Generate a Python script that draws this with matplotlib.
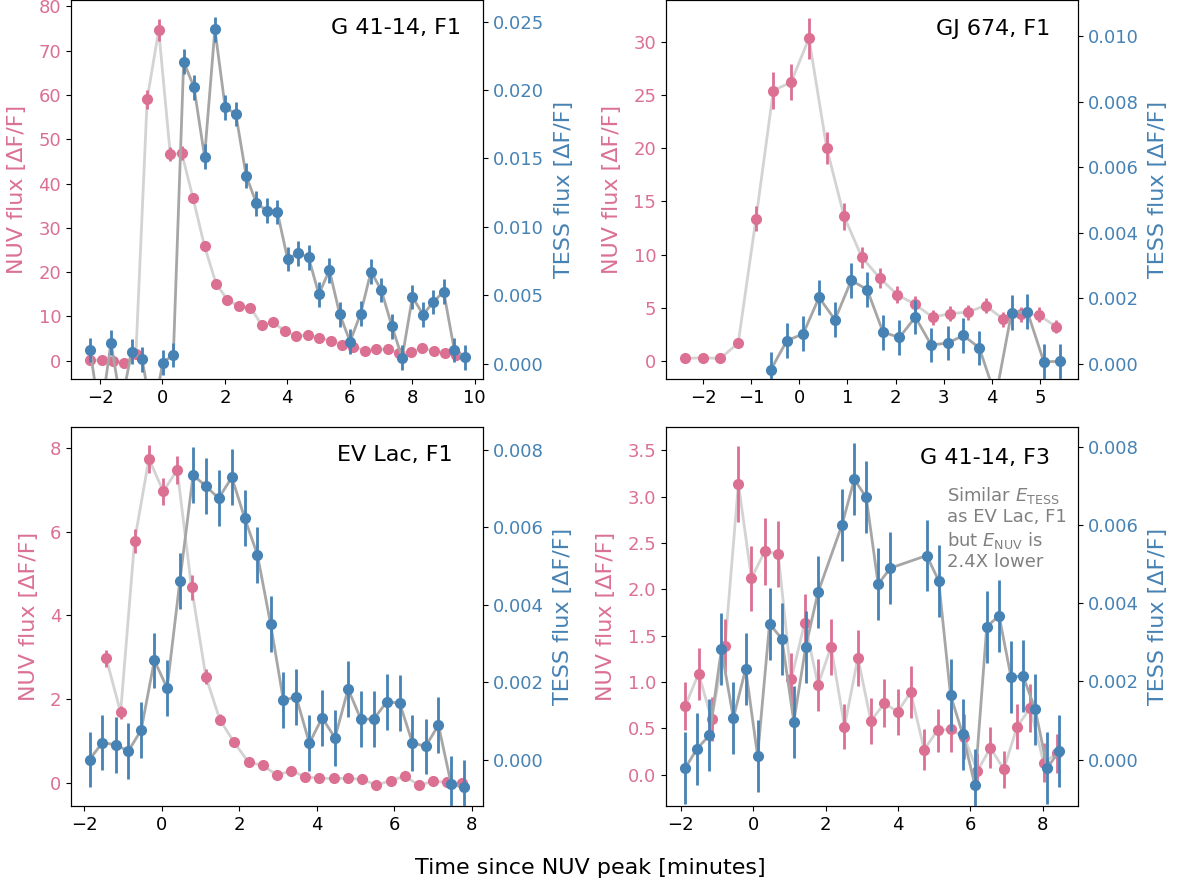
import matplotlib
matplotlib.use("Agg")
import matplotlib.pyplot as plt
from matplotlib.ticker import FormatStrFormatter

PINK = "#db7093"
BLUE = "#4682b4"
NUV_LINE = "#d3d3d3"
TESS_LINE = "#a6a6a6"

# ---------------- Panel 1: G 41-14, F1 ----------------
p1_nuv_t = [-2.32, -1.95, -1.59, -1.22, -0.85, -0.49, -0.12, 0.25, 0.62, 0.98, 1.35,
            1.72, 2.08, 2.45, 2.82, 3.19, 3.55, 3.92, 4.29, 4.65, 5.02, 5.39, 5.75,
            6.12, 6.49, 6.85, 7.22, 7.59, 7.95, 8.32, 8.69, 9.05, 9.42]
p1_nuv = [0.15, 0.15, 0.0, -0.4, 1.5, 59.0, 74.6, 46.6, 46.8, 36.7, 25.8, 17.4, 13.8,
          12.3, 12.0, 8.0, 8.7, 6.7, 5.6, 5.8, 5.2, 4.5, 3.6, 3.2, 2.3, 2.6, 2.6, 1.7,
          2.0, 2.8, 2.3, 1.8, 1.4]
p1_nuv_err = [0.4, 0.4, 0.4, 0.4, 0.5, 2.2, 2.5, 1.6, 1.6, 1.1, 0.8, 0.6, 0.5, 0.5,
              0.5, 0.4, 0.4, 0.4, 0.4, 0.4, 0.4, 0.4, 0.4, 0.4, 0.4, 0.4, 0.4, 0.4,
              0.4, 0.4, 0.4, 0.4, 0.4]
p1_tess_t = [-2.32, -1.99, -1.65, -1.32, -0.99, -0.65, -0.32, 0.01, 0.35, 0.68, 1.01,
             1.35, 1.68, 2.01, 2.35, 2.68, 3.01, 3.35, 3.68, 4.01, 4.35, 4.68, 5.01,
             5.35, 5.68, 6.01, 6.35, 6.68, 7.01, 7.35, 7.68, 8.01, 8.35, 8.68, 9.01,
             9.35, 9.68]
p1_tess = [0.00102, -0.004, 0.00156, -0.003, 0.0009, 0.00034, -0.004, 0.0001, 0.00066,
           0.02207, 0.0202, 0.01513, 0.02443, 0.01873, 0.01825, 0.01375, 0.01173,
           0.01119, 0.0111, 0.00766, 0.00808, 0.00779, 0.00509, 0.00684, 0.00363,
           0.00163, 0.00367, 0.00674, 0.0054, 0.00275, 0.00046, 0.00489, 0.0036,
           0.00453, 0.00528, 0.00102, 0.00049]
p1_tess_err = [0.0009] * len(p1_tess)

# ---------------- Panel 2: GJ 674, F1 ----------------
p2_nuv_t = [-2.37, -2.00, -1.64, -1.27, -0.90, -0.54, -0.17, 0.20, 0.57, 0.93, 1.30,
            1.67, 2.03, 2.40, 2.77, 3.14, 3.50, 3.87, 4.24, 4.60, 4.97, 5.34]
p2_nuv = [0.28, 0.34, 0.28, 1.72, 13.4, 25.4, 26.2, 30.3, 20.0, 13.6, 9.77, 7.83, 6.27,
          5.37, 4.15, 4.49, 4.62, 5.24, 3.96, 4.43, 4.37, 3.25]
p2_nuv_err = [0.3, 0.3, 0.3, 0.5, 1.2, 1.7, 1.7, 1.9, 1.5, 1.25, 1.0, 0.9, 0.8, 0.75,
              0.7, 0.7, 0.7, 0.7, 0.7, 0.7, 0.7, 0.6]
p2_tess_t = [-0.59, -0.26, 0.08, 0.41, 0.74, 1.08, 1.41, 1.74, 2.08, 2.41, 2.74, 3.08,
             3.41, 3.74, 4.08, 4.41, 4.74, 5.08, 5.41]
p2_tess = [-0.00017, 0.00071, 0.00092, 0.00203, 0.00135, 0.00255, 0.00227, 0.00097,
           0.00081, 0.00143, 0.00058, 0.00064, 0.00087, 0.00049, -0.001, 0.00157,
           0.00159, 0.00007, 0.00008]
p2_tess_err = [0.00053] * len(p2_tess)

# ---------------- Panel 3: EV Lac, F1 ----------------
p3_nuv_t = [-1.43, -1.06, -0.70, -0.33, 0.04, 0.40, 0.77, 1.14, 1.50, 1.87, 2.24, 2.61,
            2.97, 3.34, 3.71, 4.07, 4.44, 4.81, 5.17, 5.54, 5.91, 6.27, 6.64, 7.01,
            7.37, 7.74]
p3_nuv = [2.97, 1.68, 5.78, 7.75, 6.97, 7.48, 4.67, 2.53, 1.51, 0.96, 0.49, 0.41, 0.18,
          0.28, 0.14, 0.10, 0.10, 0.10, 0.08, -0.06, 0.05, 0.15, -0.06, 0.03, 0.01,
          -0.02]
p3_nuv_err = [0.2, 0.15, 0.29, 0.34, 0.32, 0.34, 0.29, 0.18, 0.12, 0.1, 0.08, 0.08,
              0.08, 0.08, 0.08, 0.08, 0.08, 0.08, 0.08, 0.08, 0.08, 0.08, 0.08, 0.08,
              0.08, 0.08]
p3_tess_t = [-1.86, -1.53, -1.19, -0.86, -0.53, -0.19, 0.14, 0.47, 0.81, 1.14, 1.47,
             1.81, 2.14, 2.47, 2.81, 3.14, 3.47, 3.81, 4.14, 4.47, 4.81, 5.14, 5.47,
             5.81, 6.14, 6.47, 6.81, 7.14, 7.47, 7.81]
p3_tess = [0.0, 0.00044, 0.00038, 0.00022, 0.00076, 0.00256, 0.00185, 0.00462, 0.00735,
           0.00706, 0.00675, 0.00729, 0.00624, 0.00529, 0.0035, 0.00153, 0.00162,
           0.00042, 0.00108, 0.00056, 0.00182, 0.00104, 0.00105, 0.00149, 0.00146,
           0.00043, 0.00034, 0.00089, -0.00064, -0.00072]
p3_tess_err = [0.00072] * len(p3_tess)

# ---------------- Panel 4: G 41-14, F3 ----------------
p4_nuv_t = [-1.88, -1.51, -1.15, -0.78, -0.41, -0.05, 0.32, 0.69, 1.05, 1.42, 1.79,
            2.15, 2.52, 2.89, 3.25, 3.62, 3.99, 4.35, 4.72, 5.09, 5.45, 5.82, 6.19,
            6.55, 6.92, 7.29, 7.65, 8.02, 8.39]
p4_nuv = [0.74, 1.09, 0.60, 1.39, 3.14, 2.12, 2.41, 2.38, 1.03, 1.64, 0.97, 1.38, 0.52,
          1.26, 0.58, 0.77, 0.68, 0.89, 0.27, 0.48, 0.49, 0.41, 0.04, 0.29, 0.06, 0.52,
          0.72, 0.13, 0.23]
p4_nuv_err = [0.26, 0.28, 0.24, 0.29, 0.41, 0.35, 0.36, 0.36, 0.28, 0.31, 0.28, 0.30,
              0.24, 0.30, 0.25, 0.26, 0.25, 0.28, 0.22, 0.23, 0.24, 0.24, 0.19, 0.22,
              0.20, 0.24, 0.26, 0.21, 0.21]
p4_tess_t = [-1.88, -1.55, -1.21, -0.88, -0.55, -0.21, 0.12, 0.45, 0.79, 1.12, 1.45,
             1.79, 2.45, 2.79, 3.12, 3.45, 3.79, 4.79, 5.12, 5.45, 5.79, 6.12, 6.45,
             6.79, 7.12, 7.45, 7.79, 8.12, 8.45]
p4_tess = [-0.00022, 0.00028, 0.00062, 0.00282, 0.00106, 0.00232, 0.00009, 0.00347,
           0.00309, 0.00097, 0.00289, 0.00428, 0.006, 0.00717, 0.00671, 0.00449, 0.0049,
           0.00522, 0.00458, 0.00164, 0.00064, -0.00065, 0.0034, 0.00368, 0.00211,
           0.00214, 0.00128, -0.00022, 0.00022]
p4_tess_err = [0.00092] * len(p4_tess)

panel_titles = ["G 41-14, F1", "GJ 674, F1", "EV Lac, F1", "G 41-14, F3"]
nuv_ticks = [[0, 10, 20, 30, 40, 50, 60, 70, 80],
             [0, 5, 10, 15, 20, 25, 30],
             [0, 2, 4, 6, 8],
             [0.0, 0.5, 1.0, 1.5, 2.0, 2.5, 3.0, 3.5]]
tess_ticks = [[0.0, 0.005, 0.010, 0.015, 0.020, 0.025],
              [0.0, 0.002, 0.004, 0.006, 0.008, 0.010],
              [0.0, 0.002, 0.004, 0.006, 0.008],
              [0.0, 0.002, 0.004, 0.006, 0.008]]
x_ticks = [[-2, 0, 2, 4, 6, 8, 10],
           [-2, -1, 0, 1, 2, 3, 4, 5],
           [-2, 0, 2, 4, 6, 8],
           [-2, 0, 2, 4, 6, 8]]

panels = [
    (p1_nuv_t, p1_nuv, p1_nuv_err, p1_tess_t, p1_tess, p1_tess_err),
    (p2_nuv_t, p2_nuv, p2_nuv_err, p2_tess_t, p2_tess, p2_tess_err),
    (p3_nuv_t, p3_nuv, p3_nuv_err, p3_tess_t, p3_tess, p3_tess_err),
    (p4_nuv_t, p4_nuv, p4_nuv_err, p4_tess_t, p4_tess, p4_tess_err),
]

# layout (figure fractions) and limits
W, H = 1183, 886
rects = [(71, 0, 483, 379), (666, 0, 1078, 379), (71, 427, 483, 806), (666, 427, 1078, 806)]
xlims = [(-2.93, 10.27), (-2.77, 5.79), (-2.34, 8.29), (-2.41, 8.97)]
nuv_lims = [(-4.1, 81.4), (-1.65, 33.9), (-0.56, 8.51), (-0.337, 3.75)]
tess_lims = [(-0.0011, 0.02657), (-0.000457, 0.0111), (-0.0012, 0.00859), (-0.00119, 0.00851)]
title_pos = [(0.947, 0.926), (0.932, 0.924), (0.927, 0.926), (0.932, 0.918)]
nuv_fmt = ["%d", "%d", "%d", "%.1f"]

fig = plt.figure(figsize=(W / 100, H / 100), dpi=100)

for i, (nt, nv, ne, tt, tv, te) in enumerate(panels):
    x0, y0, x1, y1 = rects[i]
    ax = fig.add_axes([x0 / W, 1 - y1 / H, (x1 - x0) / W, (y1 - y0) / H])
    ax.plot(nt, nv, color=NUV_LINE, lw=2, zorder=2)
    ax.errorbar(nt, nv, yerr=ne, fmt="o", color=PINK, ms=7, elinewidth=2,
                capsize=0, zorder=3)
    ax.set_xlim(*xlims[i])
    ax.set_ylim(*nuv_lims[i])
    ax.set_xticks(x_ticks[i])
    ax.set_yticks(nuv_ticks[i])
    ax.yaxis.set_major_formatter(FormatStrFormatter(nuv_fmt[i]))
    ax.tick_params(axis="y", labelcolor=PINK, labelsize=13)
    ax.tick_params(axis="x", labelsize=13)
    ax.set_ylabel("NUV flux [ΔF/F]", color=PINK, fontsize=16, labelpad=8)

    ax2 = ax.twinx()
    ax2.plot(tt, tv, color=TESS_LINE, lw=2, zorder=2)
    ax2.errorbar(tt, tv, yerr=te, fmt="o", color=BLUE, ms=7, elinewidth=2,
                 capsize=0, zorder=3)
    ax2.set_ylim(*tess_lims[i])
    ax2.set_yticks(tess_ticks[i])
    ax2.yaxis.set_major_formatter(FormatStrFormatter("%.3f"))
    ax2.tick_params(axis="y", labelcolor=BLUE, labelsize=13)
    ax2.set_ylabel("TESS flux [ΔF/F]", color=BLUE, fontsize=16, labelpad=7)

    ax2.text(title_pos[i][0], title_pos[i][1], panel_titles[i], transform=ax.transAxes,
             ha="right", va="center", fontsize=16, color="black")

    if i == 3:
        ax2.text(0.682, 0.848,
                 "Similar $E_{\\rm TESS}$\nas EV Lac, F1\nbut $E_{\\rm NUV}$ is\n2.4X lower",
                 transform=ax.transAxes, ha="left", va="top", fontsize=13,
                 color="gray")

fig.text(0.4987, 0.0203, "Time since NUV peak [minutes]", ha="center", va="center",
         fontsize=16)

fig.savefig("out.png", dpi=100)
